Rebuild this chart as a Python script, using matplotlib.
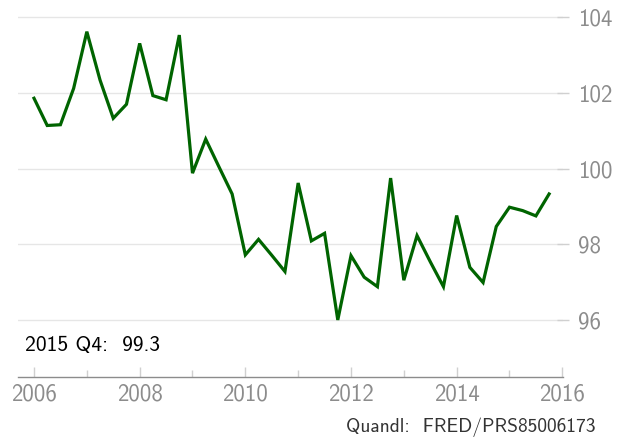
import matplotlib
matplotlib.use('Agg')
import matplotlib.pyplot as plt
from matplotlib.ticker import MultipleLocator

# Quarterly values, 2006 Q1 .. 2015 Q4
years = list(range(2006, 2016))
quarters = [1, 2, 3, 4]
values = [
    101.86, 101.14, 101.16, 102.12,   # 2006
    103.62, 102.34, 101.33, 101.70,   # 2007
    103.31, 101.93, 101.82, 103.53,   # 2008
    99.88, 100.78, 100.05, 99.33,     # 2009
    97.72, 98.13, 97.71, 97.28,       # 2010
    99.62, 98.09, 98.29, 96.00,       # 2011
    97.70, 97.13, 96.88, 99.75,       # 2012
    97.05, 98.23, 97.54, 96.88,       # 2013
    98.76, 97.39, 96.99, 98.47,       # 2014
    98.98, 98.89, 98.75, 99.33,       # 2015
]
x_ticks = [2006, 2008, 2010, 2012, 2014, 2016]
y_ticks = [96, 98, 100, 102, 104]
source = 'Quandl:  FRED/PRS85006173'

dates = [y + (q - 1) / 4 for y in years for q in quarters]

plt.rcParams['font.family'] = ['cmss10', 'DejaVu Sans']

fig = plt.figure(figsize=(6.23, 4.40), dpi=100, facecolor='white')
ax = fig.add_axes([18 / 623, 63.3 / 440, 545 / 623, 376.7 / 440])

ax.plot(dates, values, color='#006400', linewidth=2.3, solid_joinstyle='miter')

ax.set_xlim(2005.697, 2016.013)
ax.set_ylim(94.5, 104.457)

ax.set_xticks(x_ticks)
ax.set_xticklabels([str(t) for t in x_ticks])
ax.xaxis.set_minor_locator(MultipleLocator(1))
ax.set_yticks(y_ticks)
ax.set_yticklabels([str(t) for t in y_ticks])

ax.yaxis.tick_right()
ax.grid(axis='y', color='#e6e6e6', linewidth=1)
ax.set_axisbelow(True)

for side in ['top', 'left', 'right']:
    ax.spines[side].set_visible(False)
ax.spines['bottom'].set_color('#8c8c8c')
ax.spines['bottom'].set_linewidth(1.0)

ax.tick_params(axis='x', which='major', direction='in', length=7.5, width=1,
               color='#d0d0d0', labelsize=16.5, labelcolor='#8c8c8c', pad=5)
ax.tick_params(axis='x', which='minor', direction='in', length=5, width=1,
               color='#d0d0d0')
ax.tick_params(axis='y', direction='inout', length=9, width=1, color='#d0d0d0',
               labelsize=16.5, labelcolor='#8c8c8c', pad=6)

fig.text(25 / 623, 1 - 351 / 440, f'2015 Q4:  {values[-1]:.1f}', fontsize=15.5,
         color='black', ha='left', va='baseline')
fig.text(596 / 623, 1 - 432 / 440, source, fontsize=14, color='#333333',
         ha='right', va='baseline')

fig.savefig('out.png', dpi=100, facecolor='white')
